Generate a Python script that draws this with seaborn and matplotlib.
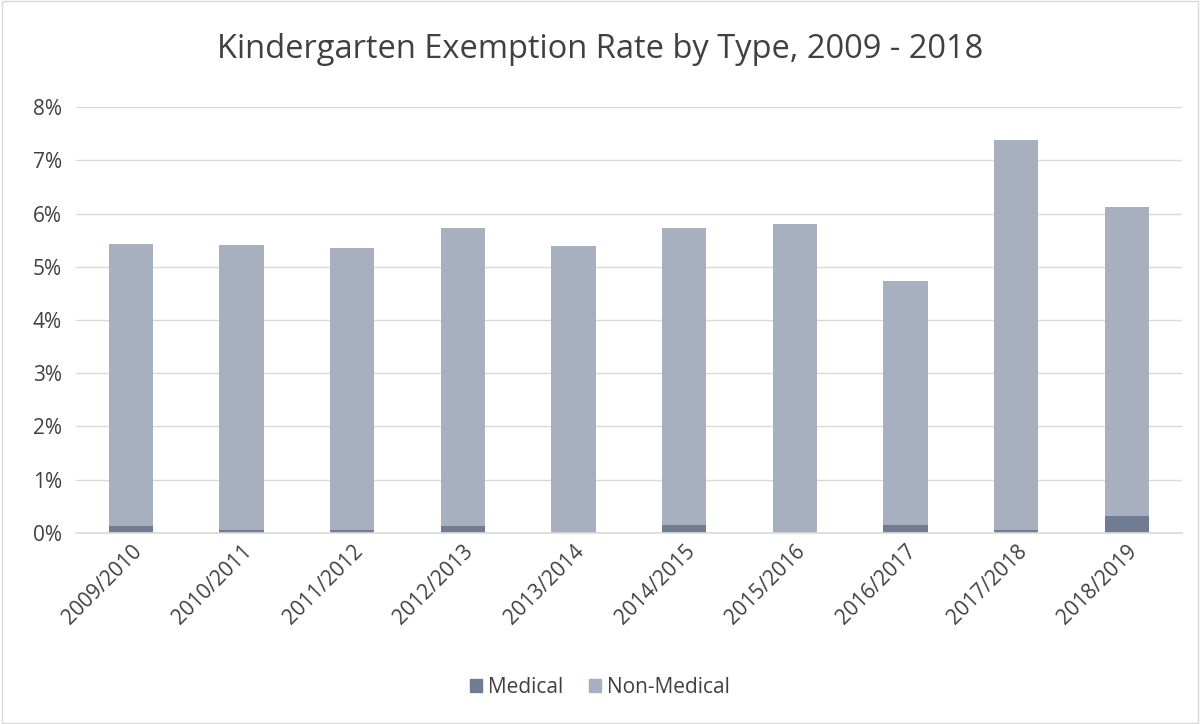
import numpy as np
import pandas as pd
import seaborn as sns
import matplotlib.pyplot as plt
from matplotlib.patches import Patch
from matplotlib.ticker import PercentFormatter

# data (percent)
years = ["2009/2010", "2010/2011", "2011/2012", "2012/2013", "2013/2014",
         "2014/2015", "2015/2016", "2016/2017", "2017/2018", "2018/2019"]
medical = [0.13, 0.05, 0.05, 0.13, 0.0, 0.15, 0.0, 0.15, 0.06, 0.31]
non_medical = [5.30, 5.36, 5.30, 5.60, 5.39, 5.58, 5.80, 4.58, 7.32, 5.81]

c_med = "#6f7c91"
c_non = "#a8b0c0"

df = pd.DataFrame({"year": years, "medical": medical, "non_medical": non_medical})
df["total"] = df["medical"] + df["non_medical"]

sns.set_style("white")
plt.rcParams['font.family'] = ['Open Sans', 'DejaVu Sans']

fig, ax = plt.subplots(figsize=(12, 7.24), dpi=100)
fig.subplots_adjust(left=0.063, right=0.985, top=0.852, bottom=0.264)

# stacked: total first, medical on top of it
sns.barplot(data=df, x="year", y="total", color=c_non, width=0.4,
            saturation=1, linewidth=0, ax=ax)
sns.barplot(data=df, x="year", y="medical", color=c_med, width=0.4,
            saturation=1, linewidth=0, ax=ax)

ax.set_ylim(0, 8)
ax.set_yticks(range(0, 9))
ax.yaxis.set_major_formatter(PercentFormatter(decimals=0))
ax.grid(axis="y", color="#d9d9d9", linewidth=1)
ax.set_axisbelow(True)
for s in ["top", "right", "left"]:
    ax.spines[s].set_visible(False)
ax.spines["bottom"].set_color("#d9d9d9")
ax.spines["bottom"].set_linewidth(1.2)
ax.set_xlabel("")
ax.set_ylabel("")
ax.tick_params(axis="both", length=0, labelsize=15, colors="#404040")
ax.tick_params(axis="x", pad=6)
ax.tick_params(axis="y", pad=10)
plt.setp(ax.get_xticklabels(), rotation=45, ha="right", rotation_mode="anchor")

fig.suptitle("Kindergarten Exemption Rate by Type, 2009 - 2018",
             fontsize=23.5, color="#404040", y=0.955)

handles = [Patch(color=c_med, label="Medical"), Patch(color=c_non, label="Non-Medical")]
fig.legend(handles=handles, loc="lower center", bbox_to_anchor=(0.5, 0.01),
           ncol=2, frameon=False, fontsize=15, handlelength=0.6, handleheight=0.6,
           columnspacing=1.2, handletextpad=0.3, labelcolor="#404040")

# light chart border
fig.patches.append(plt.Rectangle((0.002, 0.002), 0.996, 0.996, transform=fig.transFigure,
                                 fill=False, edgecolor="#d9d9d9", linewidth=1))

fig.savefig("out.png", dpi=100)
